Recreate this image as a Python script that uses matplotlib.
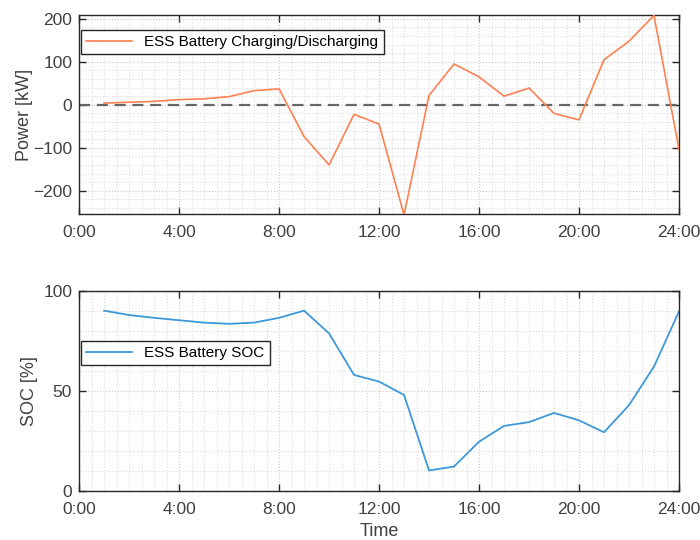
import matplotlib.pyplot as plt
import numpy as np
from matplotlib.ticker import MultipleLocator

plt.rcParams['font.family'] = ['Liberation Sans', 'DejaVu Sans']

# hourly data
hours = np.arange(1, 25)
power = [4, 6, 8, 12, 14, 19, 33, 37, -74, -140, -22, -45,
         -256, 22, 95, 65, 20, 39, -20, -35, 105, 148, 208, -104]
soc = [90.2, 88.0, 86.6, 85.4, 84.2, 83.6, 84.2, 86.6, 90.2, 78.8, 58.0, 54.7,
       48.0, 10.2, 12.2, 24.6, 32.5, 34.4, 39.0, 35.3, 29.3, 42.9, 62.2, 89.8]
xticks = [0, 4, 8, 12, 16, 20, 24]
xlabels = ["0:00", "4:00", "8:00", "12:00", "16:00", "20:00", "24:00"]

txt = '#404040'
edge = '#262626'


def style(ax, ymin, ymax, yminor):
    ax.set_xlim(0, 24)
    ax.set_ylim(ymin, ymax)
    ax.set_xticks(xticks)
    ax.set_xticklabels(xlabels)
    ax.xaxis.set_minor_locator(MultipleLocator(0.5))
    ax.yaxis.set_minor_locator(MultipleLocator(yminor))
    ax.tick_params(which='both', direction='in', top=True, right=True,
                   colors=edge, labelcolor=txt, labelsize=12.5)
    ax.tick_params(which='major', length=5, width=1)
    ax.tick_params(axis='x', which='major', pad=8)
    ax.tick_params(axis='y', which='major', pad=5)
    ax.tick_params(which='minor', length=0)
    ax.grid(which='major', linestyle=':', color='#c8c8c8', linewidth=0.8)
    ax.grid(which='minor', linestyle=':', color='#dcdcdc', linewidth=0.8)
    for s in ax.spines.values():
        s.set_color(edge)
        s.set_linewidth(1)


fig = plt.figure(figsize=(7, 5.4), dpi=100)
ax1 = fig.add_axes([0.113, 0.603, 0.857, 0.37])
ax2 = fig.add_axes([0.113, 0.091, 0.857, 0.37])

ax1.axhline(0, color='#666666', linestyle=(0, (5, 3)), linewidth=1.6, zorder=2)
ax1.plot(hours, power, color='#FF8050', linewidth=1.2, label='ESS Battery Charging/Discharging', zorder=3)
style(ax1, -255, 210, 20)
ax1.set_yticks([-200, -100, 0, 100, 200])
ax1.set_ylabel('Power [kW]', color=txt, fontsize=13)
ax1.yaxis.set_label_coords(-0.077, 0.5)
leg1 = ax1.legend(loc='upper left', bbox_to_anchor=(0.003, 0.925), fancybox=False,
                  edgecolor=edge, framealpha=1, fontsize=11, handlelength=3.0,
                  borderpad=0.35, borderaxespad=0)
leg1.get_frame().set_linewidth(1)

ax2.plot(hours, soc, color='#3C98DA', linewidth=1.3, label='ESS Battery SOC')
style(ax2, 0, 100, 10)
ax2.set_yticks([0, 50, 100])
ax2.set_ylabel('SOC [%]', color=txt, fontsize=13)
ax2.yaxis.set_label_coords(-0.069, 0.5)
ax2.set_xlabel('Time', color=txt, fontsize=13, labelpad=4)
leg2 = ax2.legend(loc='center left', bbox_to_anchor=(0.003, 0.69), fancybox=False,
                  edgecolor=edge, framealpha=1, fontsize=11, handlelength=3.0,
                  borderpad=0.35, borderaxespad=0)
leg2.get_frame().set_linewidth(1)

fig.savefig('out.png', dpi=100)
